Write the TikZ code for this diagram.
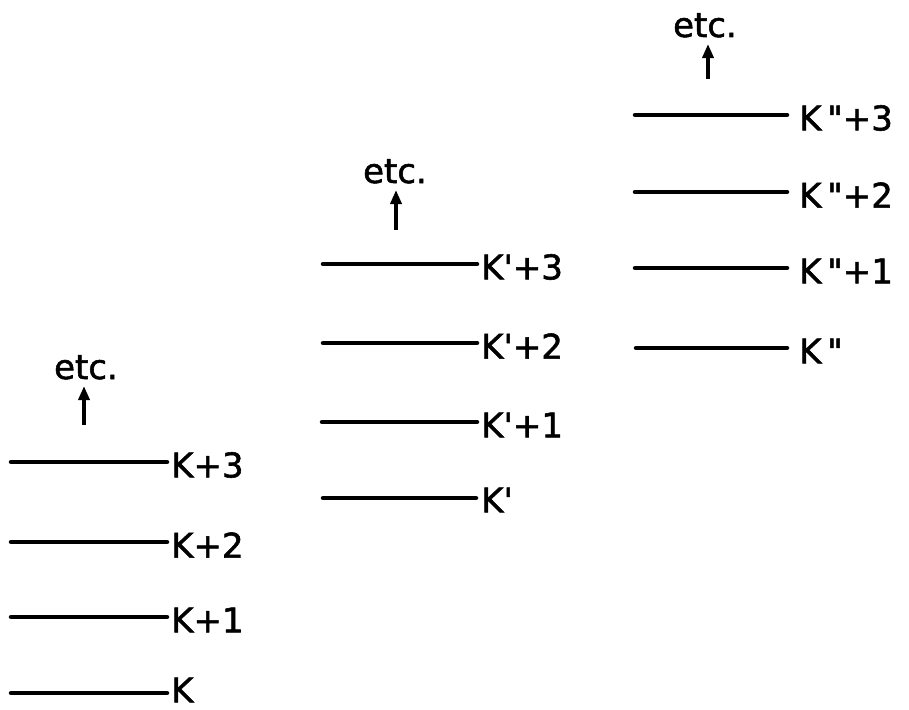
\documentclass[tikz,border=0pt]{standalone}
\usepackage{fontspec}
\setmainfont{DejaVu Sans}[FakeBold=1.6]
\usetikzlibrary{arrows.meta}
\begin{document}
\begin{tikzpicture}[x=1pt,y=-1pt,
  level/.style={line width=4.5pt,line cap=round},
  lab/.style={anchor=west,inner sep=0pt,font=\fontsize{34}{38}\selectfont},
  etcl/.style={anchor=base,inner sep=0pt,font=\fontsize{34}{38}\selectfont},
  uparrow/.style={line width=3.5pt,-{Triangle[length=14pt,width=11pt]}}]
\useasboundingbox (0,0) rectangle (909,709);
% column 1
\node[lab] (a3) at (171,465) {K+3};
\node[lab] (a2) at (171,545) {K+2};
\node[lab] (a1) at (171,620) {K+1};
\node[lab] (a0) at (171,690) {K};
\coordinate (a3s) at (11,462);
\coordinate (a2s) at (11,542);
\coordinate (a1s) at (11,617);
\coordinate (a0s) at (11,693);
\draw[level] (a3s) -- (167,462);
\draw[level] (a2s) -- (167,542);
\draw[level] (a1s) -- (167,617);
\draw[level] (a0s) -- (167,693);
\node[etcl] (ae) at (86,379) {etc.};
\coordinate (aa) at (84,425);
\draw[uparrow] (aa) -- (84,386);
% column 2
\node[lab] (b3) at (481,267) {K\textquotesingle+3};
\node[lab] (b2) at (481,346) {K\textquotesingle+2};
\node[lab] (b1) at (481,425) {K\textquotesingle+1};
\node[lab] (b0) at (481,500) {K\textquotesingle};
\coordinate (b3s) at (323,264);
\coordinate (b2s) at (323,343);
\coordinate (b1s) at (322,422);
\coordinate (b0s) at (323,498);
\draw[level] (b3s) -- (477,264);
\draw[level] (b2s) -- (477,343);
\draw[level] (b1s) -- (477,422);
\draw[level] (b0s) -- (476,498);
\node[etcl] (be) at (395,183) {etc.};
\coordinate (ba) at (396,230);
\draw[uparrow] (ba) -- (396,190);
% column 3
\node[lab] (c3) at (799,118) {K\,\textquotedbl+3};
\node[lab] (c2) at (799,195) {K\,\textquotedbl+2};
\node[lab] (c1) at (799,271) {K\,\textquotedbl+1};
\node[lab] (c0) at (799,351) {K\,\textquotedbl};
\coordinate (c3s) at (635,115);
\coordinate (c2s) at (635,192);
\coordinate (c1s) at (635,268);
\coordinate (c0s) at (636,348);
\draw[level] (c3s) -- (787,115);
\draw[level] (c2s) -- (787,192);
\draw[level] (c1s) -- (787,268);
\draw[level] (c0s) -- (787,348);
\node[etcl] (ce) at (705,37) {etc.};
\coordinate (ca) at (708,79);
\draw[uparrow] (ca) -- (708,44);
\end{tikzpicture}
\end{document}
